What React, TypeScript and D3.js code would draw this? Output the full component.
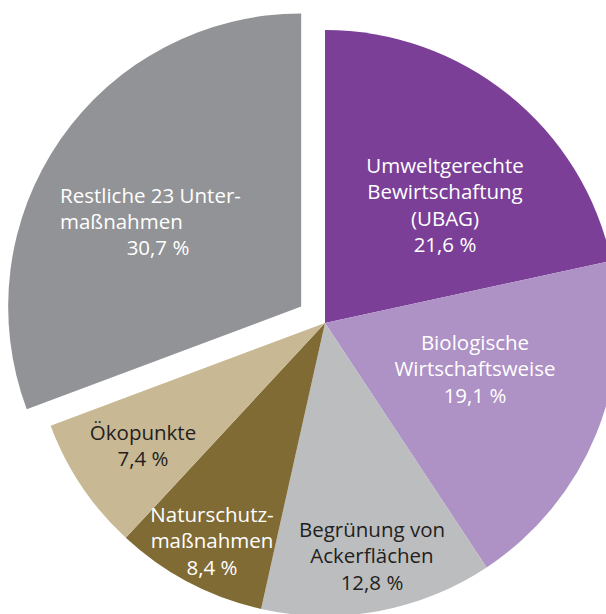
import React from "react";
import * as d3 from "d3";

const categories = [
  "Umweltgerechte Bewirtschaftung (UBAG)",
  "Biologische Wirtschaftsweise",
  "Begrünung von Ackerflächen",
  "Naturschutzmaßnahmen",
  "Ökopunkte",
  "Restliche 23 Untermaßnahmen",
];
const values = [21.6, 19.1, 12.8, 8.4, 7.4, 30.7];
const labelLines = [
  ["Umweltgerechte", "Bewirtschaftung", "(UBAG)"],
  ["Biologische", "Wirtschaftsweise"],
  ["Begrünung von", "Ackerflächen"],
  ["Naturschutz-", "maßnahmen"],
  ["Ökopunkte"],
  ["Restliche 23 Unter-", "maßnahmen"],
];

const colors = ["#7B3F98", "#AE91C5", "#BCBDBF", "#816B34", "#C8B893", "#929396"];
const textColors = ["#fff", "#fff", "#231F20", "#fff", "#231F20", "#fff"];
const explode = [0, 0, 0, 0, 0, 29];
// label anchor (center x, first baseline y)
const labelPos: [number, number][] = [
  [445, 173],
  [475, 350],
  [372, 537],
  [212, 522],
  [143, 440],
  [154, 203],
];

const fmt = (v: number) => v.toFixed(1).replace(".", ",") + " %";

export default function App() {
  const W = 606, H = 614;
  const cx = 325, cy = 323, R = 293;
  const pie = d3.pie<number>().sort(null).value((d) => d);
  const arcs = pie(values);
  const arc = d3.arc<d3.PieArcDatum<number>>().innerRadius(0).outerRadius(R);
  const lh = 26.3;
  return (
    <svg width={W} height={H} style={{ position: "absolute", left: 0, top: 0, background: "#fff" }}
      fontFamily="'Open Sans', sans-serif" fontSize={20.5}>
      <g transform={`translate(${cx},${cy})`}>
        {arcs.map((a, i) => {
          const mid = (a.startAngle + a.endAngle) / 2;
          const dx = Math.sin(mid) * explode[i];
          const dy = -Math.cos(mid) * explode[i];
          return (
            <path key={categories[i]} d={arc(a) || ""} fill={colors[i]}
              transform={`translate(${dx},${dy})`} />
          );
        })}
      </g>
      {arcs.map((a, i) => {
        const [x, y] = labelPos[i];
        const lines = [...labelLines[i], fmt(values[i])];
        if (i === 5) {
          return (
            <g key={"l" + i} fill={textColors[i]}>
              <text x={60} y={y}>{lines[0]}</text>
              <text x={60} y={y + lh}>{lines[1]}</text>
              <text x={x + 4} y={y + 2 * lh - 0.5} textAnchor="middle">{lines[2]}</text>
            </g>
          );
        }
        return (
          <text key={"l" + i} fill={textColors[i]} textAnchor="middle">
            {lines.map((l, j) => (
              <tspan key={j} x={x} y={y + j * lh}>{l}</tspan>
            ))}
          </text>
        );
      })}
    </svg>
  );
}
